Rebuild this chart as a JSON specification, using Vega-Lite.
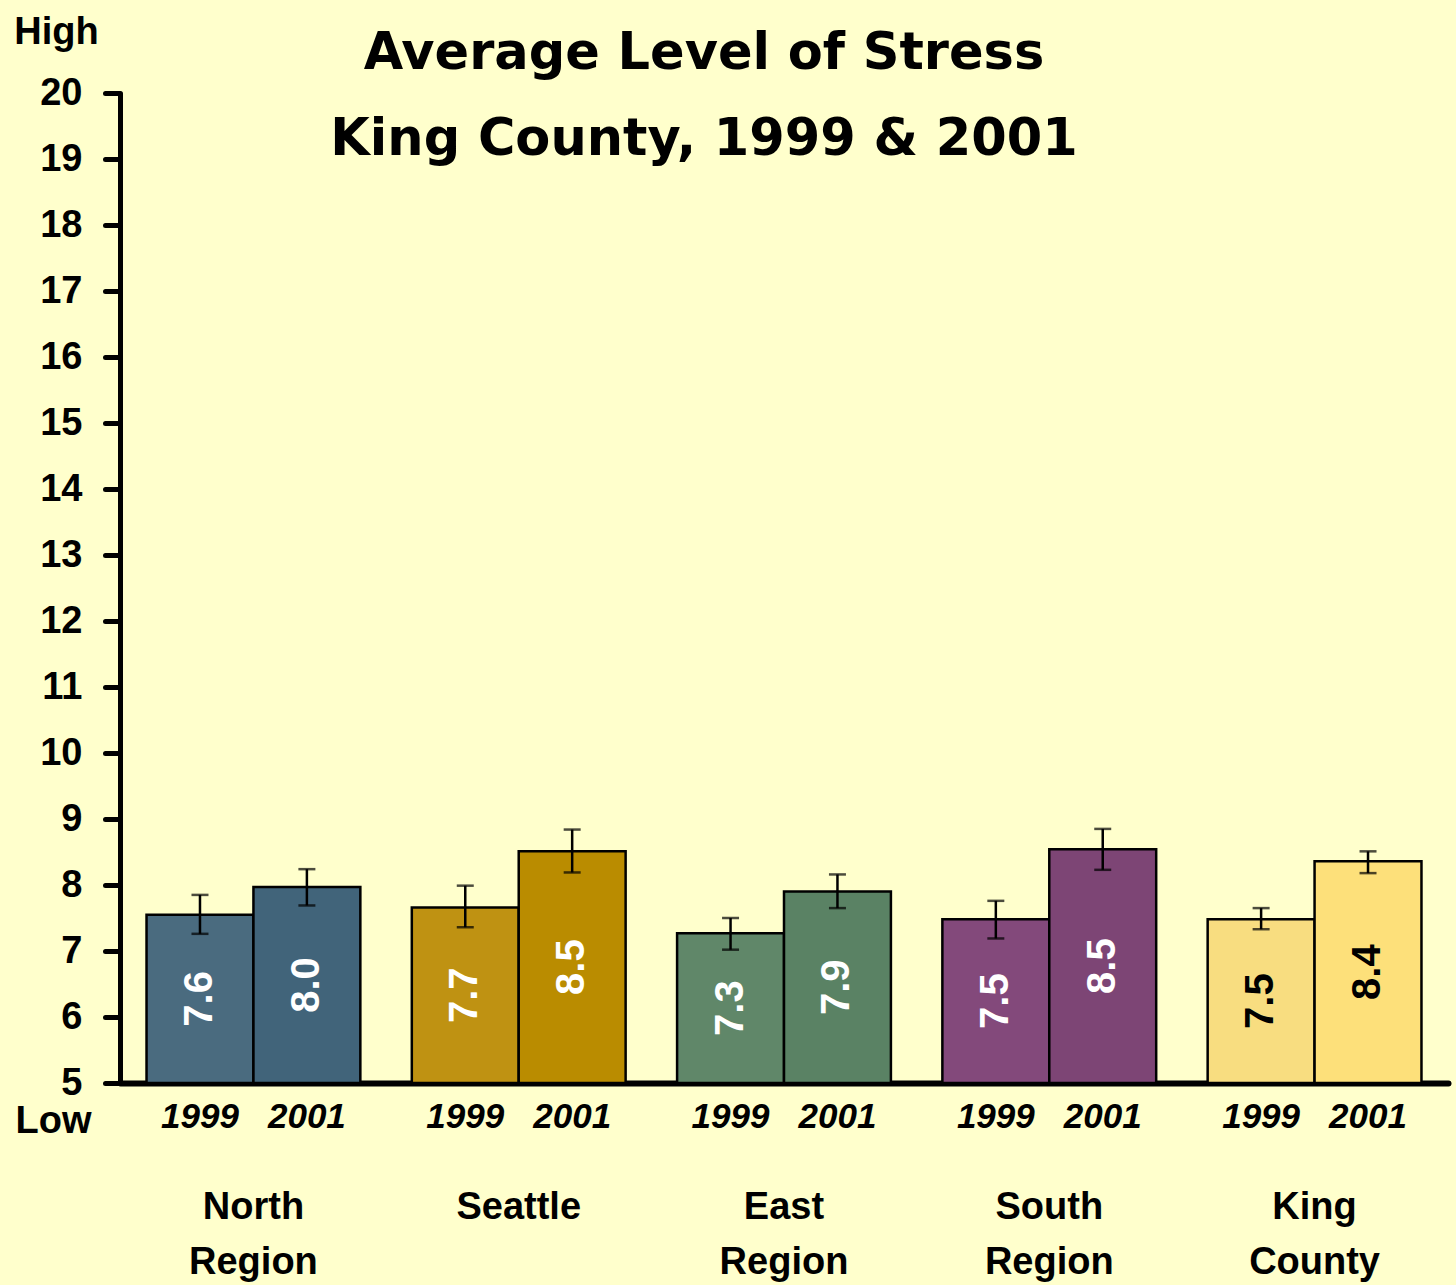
{
  "$schema": "https://vega.github.io/schema/vega-lite/v6.json",
  "width": 1328,
  "height": 990,
  "autosize": {"type": "none"},
  "padding": {"left": 120, "top": 93, "right": 8, "bottom": 202},
  "background": "#FFFFCC",
  "config": {"view": {"stroke": null}},
  "title": {
    "text": ["Average Level of Stress", "King County, 1999 & 2001"],
    "font": "DejaVu Sans",
    "fontSize": 51,
    "fontWeight": "bold",
    "color": "black",
    "lineHeight": 86,
    "anchor": "middle",
    "frame": "group",
    "baseline": "alphabetic",
    "dx": -80,
    "offset": -193
  },
  "data": {
    "values": [
      {"region": "North Region", "year": "1999", "value": 7.55, "lo": 7.26, "hi": 7.85, "label": "7.6"},
      {"region": "North Region", "year": "2001", "value": 7.97, "lo": 7.69, "hi": 8.24, "label": "8.0"},
      {"region": "Seattle", "year": "1999", "value": 7.66, "lo": 7.36, "hi": 7.99, "label": "7.7"},
      {"region": "Seattle", "year": "2001", "value": 8.51, "lo": 8.19, "hi": 8.84, "label": "8.5"},
      {"region": "East Region", "year": "1999", "value": 7.27, "lo": 7.02, "hi": 7.5, "label": "7.3"},
      {"region": "East Region", "year": "2001", "value": 7.9, "lo": 7.65, "hi": 8.16, "label": "7.9"},
      {"region": "South Region", "year": "1999", "value": 7.48, "lo": 7.19, "hi": 7.76, "label": "7.5"},
      {"region": "South Region", "year": "2001", "value": 8.54, "lo": 8.23, "hi": 8.85, "label": "8.5"},
      {"region": "King County", "year": "1999", "value": 7.48, "lo": 7.33, "hi": 7.65, "label": "7.5"},
      {"region": "King County", "year": "2001", "value": 8.36, "lo": 8.18, "hi": 8.51, "label": "8.4"}
    ]
  },
  "transform": [
    {"calculate": "datum.region + ' ' + datum.year", "as": "key"},
    {"calculate": "(datum.value + 5) / 2", "as": "mid"}
  ],
  "encoding": {
    "x": {
      "field": "region",
      "type": "nominal",
      "sort": ["North Region", "Seattle", "East Region", "South Region", "King County"],
      "scale": {"paddingInner": 0.194, "paddingOuter": 0.1},
      "axis": {
        "title": "Low",
        "titleX": -67,
        "titleY": 49,
        "titleAlign": "center",
        "titleBaseline": "alphabetic",
        "titleFont": "Liberation Sans",
        "titleFontSize": 38,
        "titleFontWeight": "bold",
        "titleColor": "black",
        "labelAngle": 0,
        "labelExpr": "datum.label == 'Seattle' ? 'Seattle' : split(datum.label, ' ')",
        "labelFont": "Liberation Sans",
        "labelFontSize": 38,
        "labelFontWeight": "bold",
        "labelColor": "black",
        "labelLineHeight": 55,
        "labelBaseline": "alphabetic",
        "labelPadding": 135,
        "ticks": false,
        "tickSize": 0,
        "domainColor": "black",
        "domainWidth": 6,
        "domainCap": "round"
      }
    },
    "xOffset": {
      "field": "year",
      "type": "nominal",
      "scale": {"paddingInner": 0, "paddingOuter": 0}
    }
  },
  "layer": [
    {
      "mark": {"type": "bar", "stroke": "black", "strokeWidth": 2.5},
      "encoding": {
        "y": {
          "field": "value",
          "type": "quantitative",
          "scale": {"domain": [5, 20], "nice": false, "zero": false},
          "axis": {
            "values": [5, 6, 7, 8, 9, 10, 11, 12, 13, 14, 15, 16, 17, 18, 19, 20],
            "format": "d",
            "grid": false,
            "title": "High",
            "titleAngle": 0,
            "titleX": -64,
            "titleY": -50,
            "titleAlign": "center",
            "titleBaseline": "alphabetic",
            "titleFont": "Liberation Sans",
            "titleFontSize": 38,
            "titleFontWeight": "bold",
            "titleColor": "black",
            "labelFont": "Liberation Sans",
            "labelFontSize": 38,
            "labelFontWeight": "bold",
            "labelColor": "black",
            "labelPadding": 23,
            "tickSize": 15,
            "tickWidth": 5,
            "tickColor": "black",
            "tickCap": "round",
            "domainColor": "black",
            "domainWidth": 5
          }
        },
        "y2": {"datum": 5},
        "color": {
          "field": "key",
          "type": "nominal",
          "legend": null,
          "scale": {
            "domain": ["North Region 1999", "North Region 2001", "Seattle 1999", "Seattle 2001", "East Region 1999", "East Region 2001", "South Region 1999", "South Region 2001", "King County 1999", "King County 2001"],
            "range": ["#4A6B7F", "#41647A", "#BF9212", "#BA8C00", "#608769", "#5A8264", "#83497B", "#7D4575", "#F8DD80", "#FDE07A"]
          }
        }
      }
    },
    {
      "mark": {"type": "rule", "color": "black", "strokeWidth": 2.5},
      "encoding": {
        "y": {"field": "lo", "type": "quantitative"},
        "y2": {"field": "hi"}
      }
    },
    {
      "mark": {"type": "tick", "color": "black", "thickness": 2.5, "size": 17},
      "encoding": {"y": {"field": "lo", "type": "quantitative"}}
    },
    {
      "mark": {"type": "tick", "color": "black", "thickness": 2.5, "size": 17},
      "encoding": {"y": {"field": "hi", "type": "quantitative"}}
    },
    {
      "mark": {"type": "text", "angle": 270, "font": "Liberation Sans", "fontSize": 40, "fontWeight": "bold", "align": "center", "baseline": "middle"},
      "encoding": {
        "y": {"field": "mid", "type": "quantitative"},
        "text": {"field": "label"},
        "color": {"condition": {"test": "datum.region === 'King County'", "value": "black"}, "value": "white"}
      }
    },
    {
      "mark": {"type": "text", "font": "Liberation Sans", "fontSize": 35, "fontWeight": "bold", "fontStyle": "italic", "align": "center", "baseline": "alphabetic", "dy": 45, "color": "black"},
      "encoding": {
        "y": {"datum": 5},
        "text": {"field": "year"}
      }
    }
  ]
}
